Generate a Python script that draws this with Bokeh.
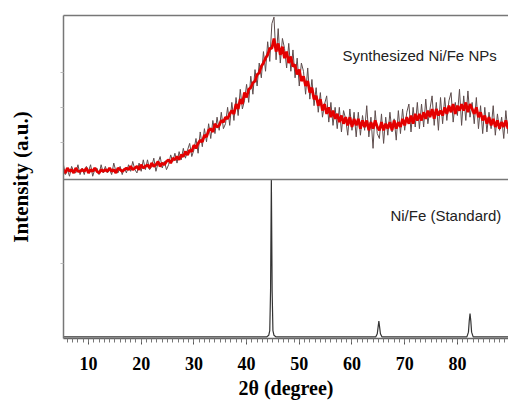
from bokeh.plotting import figure
from bokeh.models import Range1d, LinearAxis, Span, Label, FixedTicker
from bokeh.embed import file_html
from bokeh.resources import INLINE
import numpy as np

# ---- data ----
# sample pattern: 2-theta grid of 0.4 deg steps from 5.2 to 90.0
theta = np.round(np.arange(213) * 0.4 + 5.2, 2)

raw_counts = [
    10, 3, 6, 2, 8, 5, 4, 9, 3, 7,
    3, 8, 5, 9, 2, 6, 7, 3, 9, 4,
    8, 4, 6, 3, 10, 5, 4, 8, 3, 7,
    4, 9, 5, 11, 6, 4, 10, 5, 12, 6,
    12, 6, 8, 13, 5, 10, 14, 7, 11, 6,
    9, 15, 11, 16, 10, 17, 12, 19, 13, 18,
    22, 14, 18, 25, 16, 29, 20, 31, 23, 34,
    25, 36, 28, 38, 30, 41, 31, 34, 44, 33,
    47, 36, 50, 39, 55, 43, 48, 58, 47, 63,
    52, 67, 57, 71, 62, 78, 66, 84, 72, 95,
    99, 73, 92, 71, 86, 80, 68, 83, 66, 79,
    62, 74, 57, 71, 66, 52, 68, 49, 61, 45,
    56, 41, 53, 38, 46, 51, 35, 47, 33, 44,
    31, 44, 29, 42, 37, 27, 43, 30, 41, 26,
    41, 27, 39, 30, 45, 26, 38, 19, 42, 28,
    25, 40, 22, 38, 27, 41, 29, 37, 24, 42,
    28, 43, 30, 41, 46, 29, 44, 32, 47, 31,
    46, 32, 49, 34, 43, 51, 33, 47, 30, 50,
    34, 50, 36, 48, 53, 35, 47, 39, 55, 33,
    51, 36, 54, 38, 47, 34, 50, 31, 45, 28,
    44, 29, 41, 31, 45, 27, 40, 30, 38, 25, 42, 28, 39,
]

smoothed_counts = [
    6, 4, 7, 5, 6, 4, 7, 5, 5, 6,
    5, 7, 4, 6, 5, 7, 5, 4, 6, 5,
    6, 5, 7, 5, 6, 4, 7, 6, 5, 6,
    7, 6, 8, 6, 7, 8, 6, 9, 7, 8,
    9, 7, 10, 8, 9, 11, 8, 10, 9, 11,
    12, 10, 13, 12, 14, 12, 15, 14, 17, 15,
    18, 17, 21, 19, 22, 24, 23, 27, 26, 30,
    31, 29, 34, 32, 33, 36, 35, 38, 37, 40,
    42, 40, 46, 43, 49, 46, 53, 50, 55, 56,
    59, 60, 64, 65, 69, 71, 74, 76, 80, 80,
    86, 78, 83, 76, 81, 74, 78, 71, 75, 69,
    70, 64, 67, 60, 63, 57, 60, 53, 56, 49,
    51, 45, 49, 42, 46, 40, 44, 38, 42, 37,
    40, 35, 39, 34, 38, 33, 38, 32, 37, 33,
    37, 31, 36, 32, 36, 30, 35, 31, 36, 32,
    30, 35, 30, 34, 31, 35, 30, 36, 31, 35,
    32, 37, 33, 38, 34, 39, 34, 40, 36, 40,
    36, 41, 37, 42, 38, 43, 37, 43, 39, 42,
    39, 44, 40, 45, 41, 46, 40, 45, 42, 46,
    42, 47, 41, 46, 43, 40, 44, 38, 41, 36,
    39, 34, 38, 33, 37, 32, 36, 31, 35, 32, 36, 31, 35,
]

# standard Ni/Fe pattern
std_theta = [5.26, 43.8, 44.2, 44.4, 44.55, 44.7, 44.85, 45.0, 45.2, 45.6,
             64.5, 64.8, 64.95, 65.1, 65.25, 65.4, 65.7,
             81.8, 82.1, 82.25, 82.4, 82.55, 82.7, 83.0, 90.0]
std_int = [1.0, 1.0, 2.0, 5.0, 30.0, 100.0, 30.0, 5.0, 2.0, 1.0,
           1.0, 3.0, 7.0, 10.9, 7.0, 3.0, 1.0,
           1.0, 4.0, 11.0, 15.7, 11.0, 4.0, 1.0, 1.0]

x_ticks = [10, 20, 30, 40, 50, 60, 70, 80]
x_title = "2θ (degree)"
y_title = "Intensity (a.u.)"
sample_label = "Synthesized Ni/Fe NPs"
standard_label = "Ni/Fe (Standard)"

# ---- figure ----
serif = "Liberation Serif"
sans = "Liberation Sans"

p = figure(width=508, height=403, x_range=Range1d(5.26, 89.7), y_range=Range1d(0, 203.1),
           output_backend="svg", toolbar_location=None,
           min_border_left=63, min_border_right=0, min_border_top=15, min_border_bottom=65)
p.extra_y_ranges = {"top": Range1d(-96.95, 100)}
p.outline_line_color = None
p.xgrid.visible = False
p.ygrid.visible = False
p.background_fill_color = "white"
p.border_fill_color = "white"

p.line(theta, raw_counts, y_range_name="top", line_color="#5e4d4d", line_width=1)
p.line(theta, smoothed_counts, y_range_name="top", line_color="#e30000", line_width=2.8)
p.line(std_theta, std_int, line_color="#333333", line_width=1.2)

p.add_layout(Span(location=100, dimension="width", line_color="#777777", line_width=1.5))

# bottom axis
xa = p.xaxis[0]
xa.ticker = FixedTicker(ticks=x_ticks, minor_ticks=list(range(6, 90)))
xa.axis_line_color = "#666666"
xa.axis_line_width = 1.5
xa.major_tick_in = 0
xa.major_tick_out = 6
xa.minor_tick_in = 0
xa.minor_tick_out = 4
xa.major_tick_line_color = "#555555"
xa.minor_tick_line_color = "#777777"
xa.major_label_text_font = serif
xa.major_label_text_font_style = "bold"
xa.major_label_text_font_size = "18px"
xa.major_label_text_color = "black"
xa.major_label_standoff = 12
xa.axis_label = x_title
xa.axis_label_text_font = serif
xa.axis_label_text_font_style = "bold"
xa.axis_label_text_font_size = "20px"
xa.axis_label_text_color = "black"
xa.axis_label_standoff = 4

# left axis
left_ticks = [47, 123, 145, 167]
ya = p.yaxis[0]
ya.ticker = FixedTicker(ticks=left_ticks)
ya.major_label_overrides = {t: "" for t in left_ticks}
ya.axis_line_color = "#777777"
ya.axis_line_width = 1.5
ya.major_tick_in = 0
ya.major_tick_out = 3
ya.major_tick_line_color = "#bbbbbb"
ya.minor_tick_line_color = None
ya.major_label_standoff = 0
ya.axis_label = y_title
ya.axis_label_text_font = serif
ya.axis_label_text_font_style = "bold"
ya.axis_label_text_font_size = "21px"
ya.axis_label_text_color = "black"
ya.axis_label_standoff = 28

# top border
top_axis = LinearAxis(ticker=FixedTicker(ticks=[]), axis_line_color="#777777", axis_line_width=1.5,
                      major_tick_out=0, major_tick_in=0, minor_tick_out=0, minor_tick_in=0,
                      major_label_standoff=0)
p.add_layout(top_axis, "above")

p.add_layout(Label(x=58.2, y=75.6, y_range_name="top", text=sample_label,
                   text_font=sans, text_font_size="15px", text_color="#222222",
                   text_baseline="middle", text_align="left"))
p.add_layout(Label(x=67.3, y=77.4, text=standard_label,
                   text_font=sans, text_font_size="15px", text_color="#222222",
                   text_baseline="middle", text_align="left"))

open("out.html", "w").write(file_html(p, INLINE))
